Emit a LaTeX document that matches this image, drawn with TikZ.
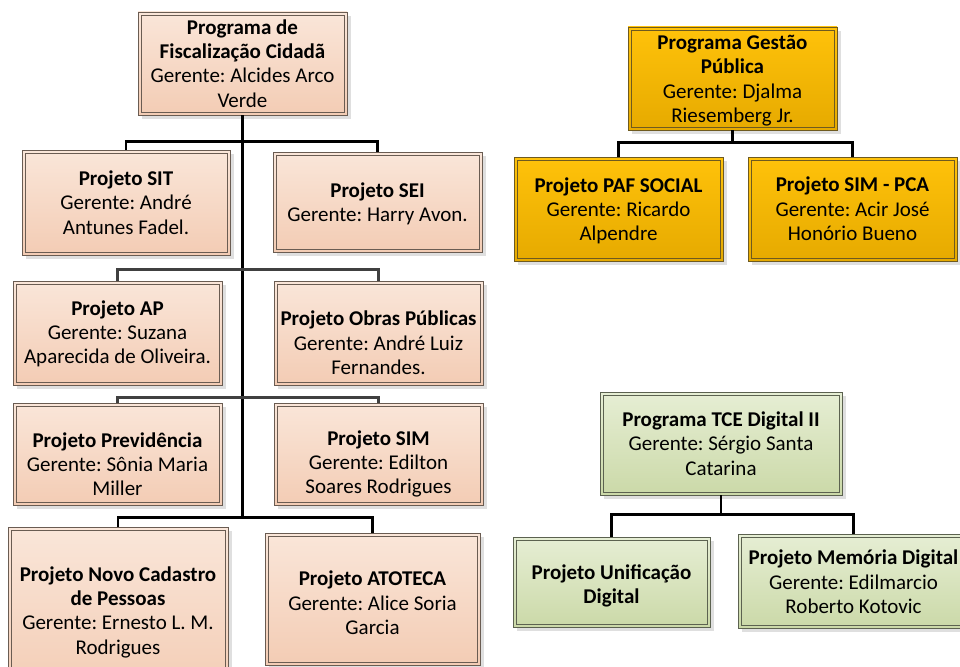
\documentclass[tikz,border=0pt]{standalone}
\usepackage{fontspec}
\setmainfont{Carlito}
\frenchspacing
\usetikzlibrary{calc,shadows}
\definecolor{peachT}{HTML}{FAE6D9}
\definecolor{peachB}{HTML}{F3CCB4}
\definecolor{peachD}{HTML}{6A5C52}
\definecolor{goldT}{HTML}{FFC20A}
\definecolor{goldB}{HTML}{E6AA00}
\definecolor{goldD}{HTML}{6E5A20}
\definecolor{greenT}{HTML}{E6EED4}
\definecolor{greenB}{HTML}{CBD9A8}
\definecolor{greenD}{HTML}{5C6250}
\tikzset{
  obox/.style={rectangle, inner sep=0pt, line width=0.9pt,
    drop shadow={shadow xshift=4pt, shadow yshift=-4pt, fill=black!25, opacity=.5}},
  peach/.style={obox, draw=peachD, top color=peachT, bottom color=peachB},
  gold/.style={obox, draw=goldD, top color=goldT, bottom color=goldB},
  green/.style={obox, draw=greenD, top color=greenT, bottom color=greenB},
  btext/.style={inner sep=0pt, align=center, font=\fontsize{21}{24.3}\selectfont\frenchspacing},
  innerp/.style={draw=peachD, line width=0.8pt},
  innerg/.style={draw=goldD, line width=0.8pt},
  innerv/.style={draw=greenD, line width=0.8pt},
  conn/.style={draw=black, line width=2.6pt},
  conng/.style={draw=black!75, line width=2.4pt},
}
% #1 style, #2 name, #3 center, #4 width, #5 height, #6 text offset, #7 text
\newcommand{\orgbox}[7]{%
  \node[#1, minimum width=#4pt, minimum height=#5pt] (#2) at #3 {};
  \draw[inner#1] ($(#2.north west)+(3.5,3.5)$) rectangle ($(#2.south east)+(-3.5,-3.5)$);
  \node[btext] (#2-t) at ($(#2.center)+(0,#6)$) {#7};}
\tikzset{innerpeach/.style={innerp}, innergold/.style={innerg}, innergreen/.style={innerv}}
\begin{document}
\begin{tikzpicture}[x=1pt,y=-1pt]
\useasboundingbox (0,0) rectangle (960,666);

% left tree
\coordinate (j4) at (242.5,518);
\orgbox{peach}{fisc}{(242.5,63.5)}{209}{103}{0}
  {\textbf{Programa de}\\\textbf{Fiscalização Cidadã}\\Gerente: Alcides Arco\\Verde}
\orgbox{peach}{sit}{(126,202.5)}{208}{105}{0}
  {\textbf{Projeto SIT}\\Gerente: André\\Antunes Fadel.}
\orgbox{peach}{sei}{(377.5,202)}{209}{100}{2}
  {\textbf{Projeto SEI}\\Gerente: Harry Avon.}
\orgbox{peach}{ap}{(117.5,333)}{209}{104}{1}
  {\textbf{Projeto AP}\\Gerente: Suzana\\Aparecida de Oliveira.}
\orgbox{peach}{obras}{(378.5,333)}{209}{104}{10}
  {\textbf{Projeto Obras Públicas}\\Gerente: André Luiz\\Fernandes.}
\orgbox{peach}{prev}{(117.5,454)}{209}{102}{10}
  {\textbf{Projeto Previdência}\\Gerente: Sônia Maria\\Miller}
\orgbox{peach}{sim}{(378.5,454)}{209}{102}{10}
  {\textbf{Projeto SIM}\\Gerente: Edilton\\Soares Rodrigues}
\orgbox{peach}{novo}{(118,612)}{220}{170}{0}
  {\textbf{Projeto Novo Cadastro}\\\textbf{de Pessoas}\\Gerente: Ernesto L. M.\\Rodrigues}
\orgbox{peach}{atoteca}{(372.5,599)}{215}{132}{4}
  {\textbf{Projeto ATOTECA}\\Gerente: Alice Soria\\Garcia}

\draw[conn] (fisc.south) -- (j4);
\draw[conn] (sit.north) -- ++(0,-8) -| (sei.north);
\draw[conng] (ap.north) -- ++(0,-11) -| (obras.north);
\draw[conng] (prev.north) -- ++(0,-5) -| (sim.north);
\draw[conn] (novo.north) -- ++(0,-9) -| (atoteca.north);

% Gestão Pública
\orgbox{gold}{gestao}{(732.5,78.5)}{209}{103}{2}
  {\textbf{Programa Gestão}\\\textbf{Pública}\\Gerente: Djalma\\Riesemberg Jr.}
\orgbox{gold}{paf}{(618.5,209)}{209}{104}{2}
  {\textbf{Projeto PAF SOCIAL}\\Gerente: Ricardo\\Alpendre}
\orgbox{gold}{simpca}{(852.5,209)}{209}{104}{0}
  {\textbf{Projeto SIM - PCA}\\Gerente: Acir José\\Honório Bueno}
\draw[conn] (gestao.south) -- ++(0,13);
\draw[conn] (paf.north) -- ++(0,-14) -| (simpca.north);

% TCE Digital II
\orgbox{green}{tce}{(721,443.5)}{242}{103}{0}
  {\textbf{Programa TCE Digital II}\\Gerente: Sérgio Santa\\Catarina}
\orgbox{green}{unif}{(611.5,582)}{197}{90}{4}
  {\textbf{Projeto Unificação}\\\textbf{Digital}}
\orgbox{green}{mem}{(853.5,581)}{231}{94}{1}
  {\textbf{Projeto Memória Digital}\\Gerente: Edilmarcio\\Roberto Kotovic}
\draw[conn] (tce.south) -- ++(0,20);
\draw[conn] (unif.north) -- ++(0,-22) -| (mem.north);
\end{tikzpicture}
\end{document}
